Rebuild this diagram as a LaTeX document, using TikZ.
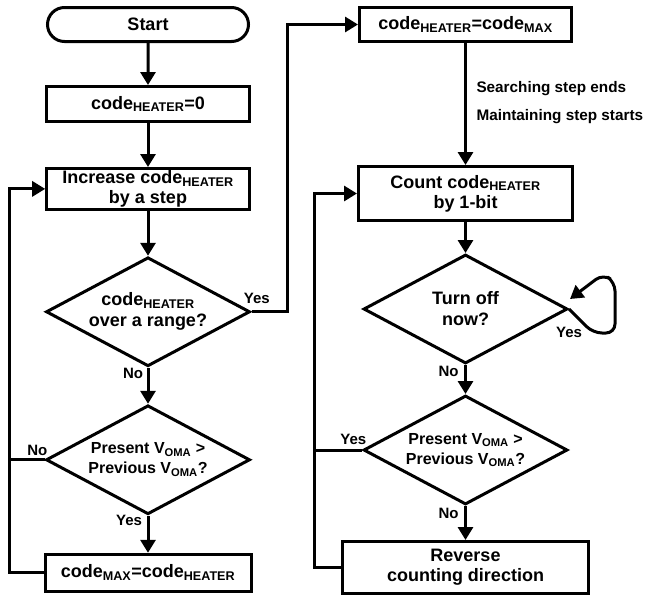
\documentclass[tikz,border=0pt]{standalone}
\usepackage{fontspec}
\setmainfont{Liberation Sans}
\usepackage{tikz}
\usetikzlibrary{arrows.meta,positioning,calc,shapes.geometric,shapes.misc}
\newcommand{\cH}{code\textsubscript{HEATER}}
\newcommand{\cM}{code\textsubscript{MAX}}
\newcommand{\Vo}{V\textsubscript{OMA}}

\begin{document}
\begin{tikzpicture}[
  x=1pt, y=-1pt,
  box/.style={draw,rectangle,line width=3pt,align=center,inner sep=2pt,
              minimum width=202.6pt,minimum height=35pt,
              font=\fontsize{18}{20}\selectfont\bfseries},
  term/.style={box,rounded rectangle,minimum width=205pt,minimum height=34pt},
  dec/.style={draw,diamond,aspect=1.85,line width=3pt,align=center,inner sep=1pt,
              minimum width=204pt,minimum height=109pt,
              font=\fontsize{16}{20}\selectfont\bfseries},
  bigq/.style={dec,font=\fontsize{18}{21}\selectfont\bfseries},
  lbl/.style={font=\fontsize{15}{18}\selectfont\bfseries,inner sep=1.5pt},
  note/.style={lbl,align=left,font=\fontsize{15.3}{28}\selectfont\bfseries},
  arr/.style={-{Triangle[length=13pt,width=15pt]},line width=3pt},
  link/.style={line width=3pt}
]
\useasboundingbox (0,0) rectangle (650,595);

% searching step
\node[term] (start) at (148,24.5) {Start};
\node[box,below=42pt of start] (heat0) {\cH=0};
\node[box,below=44pt of heat0,minimum height=40pt] (incr) {Increase \cH\\by a step};
\node[bigq,below=45pt of incr] (over) {\cH\\over a range?};
\node[dec,below=36pt of over] (cmp1) {Present \Vo{} >\\Previous \Vo?};
\node[box,below=37pt of cmp1,minimum width=206pt,minimum height=37pt] (cmax) {\cM=\cH};

% maintaining step
\node[box,right=108pt of start,minimum width=212pt,minimum height=34pt] (hmax) {\cH=\cM};
\node[box,below=122pt of hmax,minimum width=214pt,minimum height=54pt] (count) {Count \cH\\by 1-bit};
\node[bigq,below=31pt of count] (off) {Turn off\\now?};
\node[dec,below=29pt of off] (cmp2) {Present \Vo{} >\\Previous \Vo?};
\node[box,below=34pt of cmp2,minimum width=246pt,minimum height=52pt] (rev) {Reverse\\counting direction};

\coordinate (railL) at (9,0);
\coordinate (railR) at (314,0);
\coordinate (railY) at (287,0);

\draw[arr] (start) -- (heat0);
\draw[arr] (heat0) -- (incr);
\draw[arr] (incr) -- (over);
\draw[arr] (over) -- node[lbl,left=2pt,pos=0.15] (no1) {No} (cmp1);
\draw[arr] (cmp1) -- node[lbl,left=3pt,pos=0.12] (yes2) {Yes} (cmax);
\draw[arr] (cmax.west) -- (cmax.west -| railL) |- (incr.west);
\draw[link] (cmp1.west) -- node[lbl,above=1pt,pos=0.2] (no2) {No} (cmp1.west -| railL);
\draw[arr] (over.east) -- node[lbl,above=5pt,pos=0.15] (yes1) {Yes} (over.east -| railY) |- (hmax.west);

\draw[arr] (hmax) -- node[note,right=8pt,pos=0.49] (phase) {Searching step ends\\Maintaining step starts} (count);
\draw[arr] (count) -- (off);
\draw[arr] (off) -- node[lbl,left=4pt,pos=0.23] (no3) {No} (cmp2);
\draw[arr] (cmp2) -- node[lbl,left=4pt,pos=0.22] (no4) {No} (rev);
\draw[link] (cmp2.west) -- node[lbl,above=2.5pt,pos=0.18] (yes4) {Yes} (cmp2.west -| railR);
\draw[arr] (rev.west) -- (rev.west -| railR) |- (count.west);

% wait loop
\coordinate (loopin) at ($(off.east)+(1,-10)$);
\draw[arr,rounded corners=9pt] (off.east) -- ++(24,24) -- ++(22,0) -- ++(0,-51) -- ++(-12,-8) -- (loopin);
\node[lbl,below=16pt of off.east] (yes3) {Yes};
\end{tikzpicture}
\end{document}
